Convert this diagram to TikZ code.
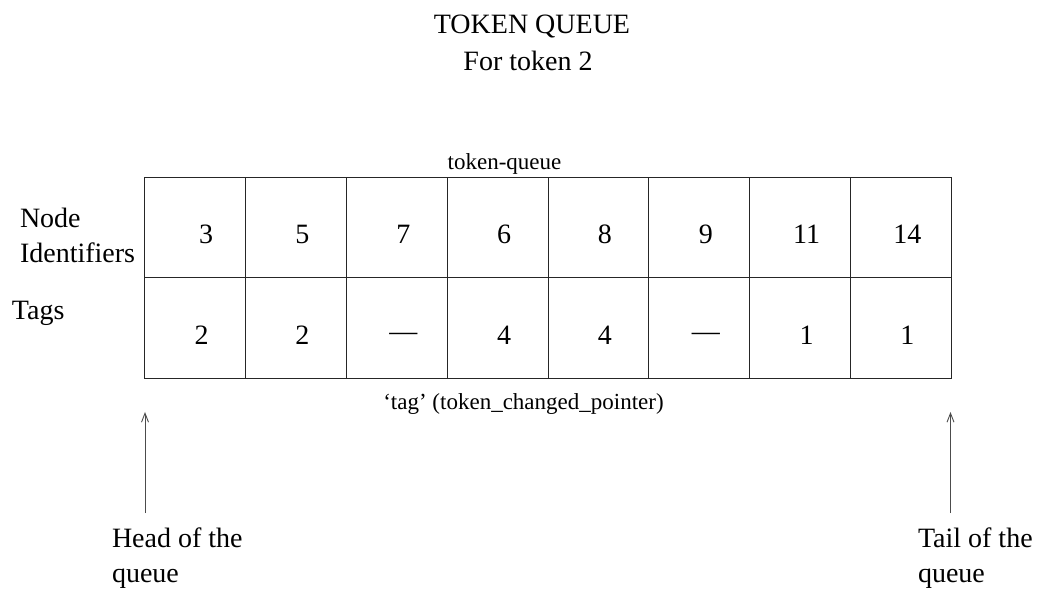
\documentclass[tikz,border=0pt]{standalone}
\usepackage{fontspec}
\setmainfont{Liberation Serif}
\usetikzlibrary{arrows.meta}
\begin{document}
\begin{tikzpicture}[x=1pt,y=-1pt,
  cell/.style={draw=black!85, line width=0.9pt, minimum width=100.83pt, minimum height=100.8pt, inner sep=0pt, outer sep=0pt},
  big/.style={font=\fontsize{28}{35.5}\selectfont, inner sep=0pt, outer sep=0pt},
  small/.style={font=\fontsize{23}{28}\selectfont, inner sep=0pt},
  ptr/.style={draw=black!70, line width=0.9pt, -{Straight Barb[length=9pt,width=7pt]}}]
\useasboundingbox (0,0) rectangle (1042,593);
% title
\node[big, anchor=base] (title1) at (532,34) {TOKEN QUEUE};
\node[big, anchor=base] (title2) at (528,71) {For token 2};
% table cells
\foreach \i in {1,...,8}{
  \node[cell] (a\i) at ({144.7+100.83*(\i-0.5)},227.4) {};
  \node[cell] (b\i) at ({144.7+100.83*(\i-0.5)},328.2) {};
}
% row 1 values
\foreach \i/\v/\dx in {1/3/11,2/5/6.5,3/7/6.5,4/6/6.5,5/8/6.5,6/9/6.5,7/11/6.5,8/14/6.5}{
  \node[big, anchor=base] (n\i) at ([xshift=\dx pt]a\i.center |- 0,244) {\v};
}
% row 2 values
\foreach \i/\v in {1/2,2/2,4/4,5/4,7/1,8/1}{
  \node[big, anchor=base] (g\i) at ([xshift=6.5pt]b\i.center |- 0,345) {\v};
}
\foreach \i in {3,6}{
  \node[big, anchor=center] (g\i) at ([xshift=6.5pt]b\i.center |- 0,337) {—};
}
% labels
\node[small, anchor=base] (tq) at (504.5,170) {token-queue};
\node[small, anchor=base] (tp) at (523.5,410) {`tag' (token\_changed\_pointer)};
\node[big, anchor=base west, align=left] (nid) at (20,263) {Node\\Identifiers};
\node[big, anchor=base west] (tags) at (12,320) {Tags};
% head / tail
\coordinate (htip) at (145,412);
\coordinate (hbase) at (145,513);
\coordinate (ttip) at (950.5,412);
\coordinate (tbase) at (950.5,513);
\draw[ptr] (hbase) -- (htip);
\draw[ptr] (tbase) -- (ttip);
\node[big, anchor=base west, align=left] (head) at (112,582.5) {Head of the\\queue};
\node[big, anchor=base west, align=left] (tail) at (918,582.5) {Tail of the\\queue};
\end{tikzpicture}
\end{document}
